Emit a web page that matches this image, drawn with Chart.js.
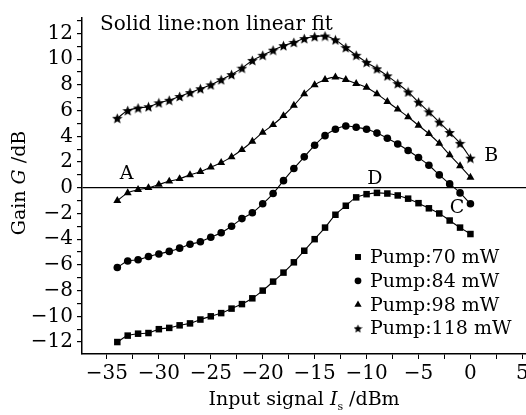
<!DOCTYPE html>
<html>
<head>
<meta charset="utf-8">
<script src="https://cdn.jsdelivr.net/npm/chart.js@4.4.1/dist/chart.umd.min.js"></script>
<style>
  html, body { margin: 0; padding: 0; background: #fff; overflow: hidden; }
  #wrap { width: 526px; height: 415px; overflow: hidden; }
</style>
</head>
<body>
<div id="wrap"><canvas id="gainChart" width="531" height="415"></canvas></div>
<script>
// input signal power, dBm
const inputSignal = [
  -34, -33, -32, -31, -30, -29, -28, -27, -26, -25, -24, -23,
  -22, -21, -20, -19, -18, -17, -16, -15, -14, -13, -12, -11,
  -10, -9, -8, -7, -6, -5, -4, -3, -2, -1, 0
];

// measured gain (dB) for each pump power
const gain70mW = [
  -12.0, -11.5, -11.35, -11.3, -11.0, -10.9, -10.7, -10.55, -10.25, -10.0, -9.75, -9.4,
  -9.05, -8.6, -8.0, -7.3, -6.6, -5.8, -4.9, -4.0, -3.1, -2.1, -1.4, -0.75,
  -0.5, -0.4, -0.45, -0.6, -0.85, -1.2, -1.6, -2.0, -2.55, -3.1, -3.6
];
const gain84mW = [
  -6.2, -5.7, -5.6, -5.35, -5.15, -4.95, -4.7, -4.4, -4.2, -3.85, -3.5, -3.0,
  -2.4, -1.95, -1.25, -0.45, 0.55, 1.5, 2.4, 3.3, 4.05, 4.55, 4.8, 4.7,
  4.55, 4.25, 3.85, 3.4, 2.9, 2.35, 1.75, 1.0, 0.3, -0.4, -1.25
];
const gain98mW = [
  -1.0, -0.4, -0.15, 0.0, 0.25, 0.5, 0.7, 1.0, 1.25, 1.6, 1.95, 2.4,
  2.95, 3.6, 4.3, 4.9, 5.6, 6.4, 7.3, 8.0, 8.4, 8.6, 8.4, 8.1,
  7.8, 7.3, 6.7, 6.1, 5.5, 4.85, 4.2, 3.45, 2.55, 1.7, 0.8
];
const gain118mW = [
  5.4, 6.0, 6.2, 6.3, 6.6, 6.8, 7.1, 7.4, 7.7, 8.0, 8.4, 8.8,
  9.3, 9.9, 10.3, 10.7, 11.05, 11.3, 11.6, 11.75, 11.8, 11.5, 10.9, 10.3,
  9.75, 9.25, 8.7, 8.1, 7.45, 6.65, 5.9, 5.1, 4.3, 3.45, 2.3
];

const seriesLabels = ['Pump:70 mW', 'Pump:84 mW', 'Pump:98 mW', 'Pump:118 mW'];

// letters marked on the curves, placed in data units
const markLetters = ['A', 'B', 'C', 'D'];
const markX = [-33.1, 2.0, -1.3, -9.2];
const markY = [1.1, 2.5, -1.6, 0.7];

const SERIF = '"DejaVu Serif", "Liberation Serif", serif';
const TICK_SIZE = 20;
const TEXT_SIZE = 19;

const minus = (v) => (v < 0 ? '\u2212' + Math.abs(v) : String(v));

function makeStar(size) {
  const c = document.createElement('canvas');
  c.width = size;
  c.height = size;
  const g = c.getContext('2d');
  const cx = size / 2;
  const cy = size / 2 + 0.5;
  const outer = size / 2;
  const inner = outer * 0.45;
  g.fillStyle = '#000';
  g.beginPath();
  for (let i = 0; i < 10; i++) {
    const a = -Math.PI / 2 + (i * Math.PI) / 5;
    const r = i % 2 ? inner : outer;
    g.lineTo(cx + r * Math.cos(a), cy + r * Math.sin(a));
  }
  g.closePath();
  g.fill();
  return c;
}

const starImage = makeStar(11);
const smallStar = makeStar(9);

const pointStyles = ['rect', 'circle', 'triangle', starImage];
const pointSizes = [4.6, 3.8, 4.6, 5];
const legendStyles = ['rect', 'circle', 'triangle', smallStar];
const legendSizes = [4.2, 3.4, 4.2, 4.5];
const gainSeries = [gain70mW, gain84mW, gain98mW, gain118mW];

const datasets = gainSeries.map((values, i) => ({
  label: seriesLabels[i],
  data: values.map((g, k) => ({ x: inputSignal[k], y: g })),
  borderColor: '#000',
  backgroundColor: '#000',
  borderWidth: 1.1,
  tension: 0.35,
  pointStyle: pointStyles[i],
  pointRadius: pointSizes[i],
  pointBorderWidth: 0,
  pointBackgroundColor: '#000',
}));

// draws a run of text pieces (some italic / subscript) centred on x
function drawRuns(ctx, runs, x, y) {
  const fontOf = (run) => `${run.italic ? 'italic ' : ''}${run.size || TEXT_SIZE}px ${SERIF}`;
  const widths = runs.map((run) => {
    ctx.font = fontOf(run);
    return ctx.measureText(run.text).width;
  });
  const total = widths.reduce((a, b) => a + b, 0);
  let cursor = x - total / 2;
  runs.forEach((run, i) => {
    ctx.font = fontOf(run);
    ctx.fillText(run.text, cursor, y + (run.shift || 0));
    cursor += widths[i];
  });
}

const textPlugin = {
  id: 'gainText',
  afterDraw(chart) {
    const { ctx, chartArea, scales } = chart;
    ctx.save();
    ctx.fillStyle = '#000';
    ctx.textBaseline = 'alphabetic';
    ctx.textAlign = 'left';

    ctx.font = `20px ${SERIF}`;
    ctx.fillText('Solid line:non linear fit', 100, 30);

    // letters on curves
    ctx.textAlign = 'center';
    ctx.textBaseline = 'middle';
    ctx.font = `${TEXT_SIZE}px ${SERIF}`;
    markLetters.forEach((letter, i) => {
      ctx.fillText(letter, scales.x.getPixelForValue(markX[i]), scales.y.getPixelForValue(markY[i]));
    });

    // legend
    ctx.textAlign = 'left';
    const legendX = 358;
    const legendTop = 257;
    seriesLabels.forEach((label, i) => {
      const rowY = legendTop + i * 23.8;
      Chart.helpers.drawPoint(ctx, {
        pointStyle: legendStyles[i],
        radius: legendSizes[i],
        rotation: 0,
        borderWidth: 0,
      }, legendX, rowY);
      ctx.font = `${TEXT_SIZE}px ${SERIF}`;
      ctx.fillText(label, legendX + 12, rowY + 1);
    });

    // axis titles
    ctx.textAlign = 'left';
    ctx.textBaseline = 'alphabetic';
    drawRuns(ctx, [
      { text: 'Input signal ' },
      { text: 'I', italic: true },
      { text: 's', size: 11, shift: 5 },
      { text: ' /dBm' },
    ], 304, 405);

    ctx.translate(25, (chartArea.top + chartArea.bottom) / 2 - 3);
    ctx.rotate(-Math.PI / 2);
    drawRuns(ctx, [
      { text: 'Gain ' },
      { text: 'G', italic: true },
      { text: ' /dB' },
    ], 0, 0);
    ctx.restore();
  },
};

new Chart(document.getElementById('gainChart'), {
  type: 'line',
  data: { datasets },
  plugins: [textPlugin],
  options: {
    responsive: false,
    animation: false,
    layout: { padding: { top: 18, right: 0, left: 0, bottom: 0 } },
    plugins: {
      legend: { display: false },
      tooltip: { enabled: false },
    },
    scales: {
      x: {
        type: 'linear',
        min: -37.4,
        max: 5.35,
        afterFit: (scale) => {
          scale.height = 61;
          scale.paddingRight = 0;
        },
        ticks: {
          stepSize: 2.5,
          includeBounds: false,
          autoSkip: false,
          maxRotation: 0,
          padding: 3,
          color: '#000',
          font: { family: SERIF, size: TICK_SIZE },
          callback: (v) => (v % 5 === 0 ? minus(v) : ''),
        },
        grid: {
          drawOnChartArea: false,
          tickLength: 5,
          tickColor: '#000',
        },
        border: { color: '#000', width: 1.5 },
      },
      y: {
        min: -12.93,
        max: 13.2,
        afterFit: (scale) => {
          scale.width = 82;
        },
        ticks: {
          stepSize: 1,
          includeBounds: false,
          autoSkip: false,
          padding: 4,
          color: '#000',
          font: { family: SERIF, size: TICK_SIZE },
          callback: (v) => (v % 2 === 0 ? minus(v) : ''),
        },
        grid: {
          color: (c) => (c.tick && c.tick.value === 0 ? '#000' : 'rgba(0,0,0,0)'),
          lineWidth: 1.2,
          tickLength: 5,
          tickColor: '#000',
        },
        border: { color: '#000', width: 1.5 },
      },
    },
  },
});
</script>
</body>
</html>
